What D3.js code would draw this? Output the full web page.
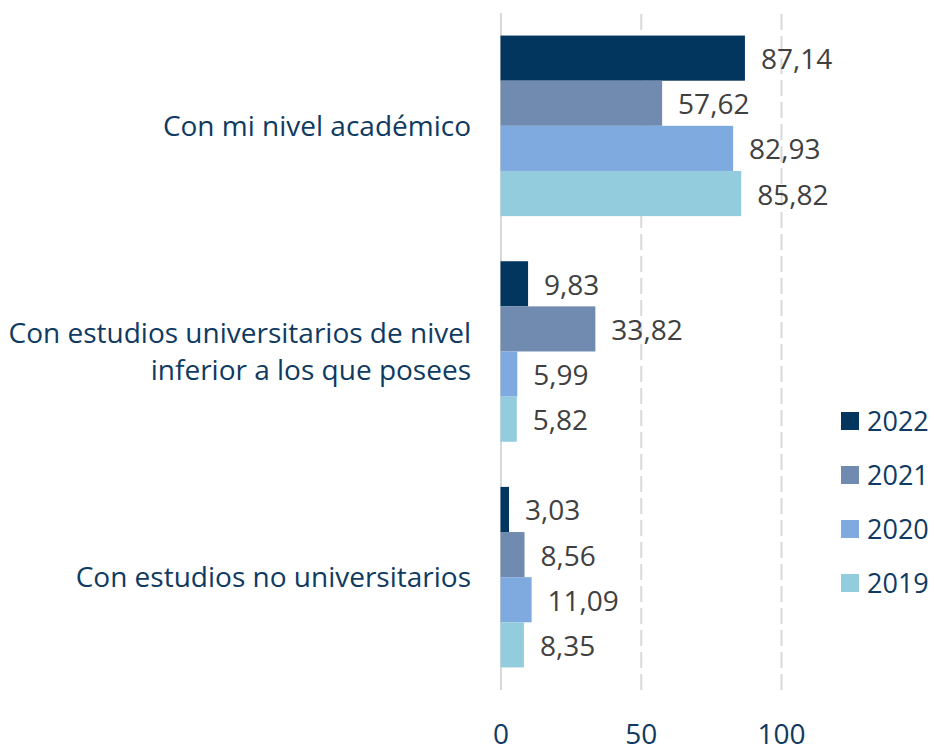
<!DOCTYPE html>
<html>
<head>
<meta charset="utf-8">
<script src="https://cdn.jsdelivr.net/npm/d3@7"></script>
<style>
  html, body { margin: 0; padding: 0; background: #ffffff; }
  svg { display: block; font-family: "Open Sans", "Noto Sans", sans-serif; }
</style>
</head>
<body>
<svg id="chart" width="934" height="748"></svg>
<script>
// Categories (top to bottom), each label split into display lines
const categories = [
  "Con mi nivel académico",
  "Con estudios universitarios de nivel inferior a los que posees",
  "Con estudios no universitarios"
];
const categoryLines = [
  ["Con mi nivel académico"],
  ["Con estudios universitarios de nivel", "inferior a los que posees"],
  ["Con estudios no universitarios"]
];

// Series, in the order they are stacked inside each group
const years = ["2022", "2021", "2020", "2019"];
const values2022 = [87.14, 9.83, 3.03];
const values2021 = [57.62, 33.82, 8.56];
const values2020 = [82.93, 5.99, 11.09];
const values2019 = [85.82, 5.82, 8.35];
const seriesValues = [values2022, values2021, values2020, values2019];

const xTicks = [0, 50, 100];
const colors = ["#02365F", "#718BB0", "#7FAADF", "#93CDDD"];

const navy = "#0F3A61";
const labelGrey = "#404040";
const gridGrey = "#D9D9D9";

const svg = d3.select("#chart");

const x = d3.scaleLinear().domain([0, 100]).range([500.5, 781]);
const y = d3.scaleBand().domain(categories).range([13, 690])
  .paddingInner(0.2).paddingOuter(0.1);
const yInner = d3.scaleBand().domain(years).range([0, y.bandwidth()]);
const color = d3.scaleOrdinal().domain(years).range(colors);

// Vertical gridlines
const grid = svg.append("g").attr("transform", "translate(0,690)")
  .call(d3.axisBottom(x).tickValues(xTicks).tickSize(-677).tickFormat(""));
grid.select(".domain").remove();
grid.selectAll(".tick line")
  .attr("stroke", gridGrey)
  .attr("stroke-width", 2)
  .attr("stroke-dasharray", d => d === 0 ? null : "16,6");

// Tick labels
const axis = svg.append("g").attr("transform", "translate(0,744)")
  .call(d3.axisBottom(x).tickValues(xTicks).tickSize(0).tickPadding(0).tickFormat(d3.format("d")));
axis.select(".domain").remove();
axis.selectAll(".tick text")
  .attr("dy", 0)
  .attr("fill", navy)
  .style("font-size", "28px")
  .style("font-family", "'Open Sans', sans-serif");

// Bars and value labels
const rows = [];
categories.forEach((c, ci) => {
  years.forEach((yr, si) => {
    rows.push({ cat: c, year: yr, value: seriesValues[si][ci] });
  });
});

const fmt = v => d3.format(".2f")(v).replace(".", ",");

const groups = svg.append("g");
groups.selectAll("rect").data(rows).join("rect")
  .attr("x", x(0))
  .attr("y", d => y(d.cat) + yInner(d.year))
  .attr("width", d => x(d.value) - x(0))
  .attr("height", yInner.bandwidth())
  .attr("fill", d => color(d.year));

groups.selectAll("text.val").data(rows).join("text")
  .attr("class", "val")
  .attr("x", d => x(d.value) + 16)
  .attr("y", d => y(d.cat) + yInner(d.year) + yInner.bandwidth() / 2 + 11)
  .attr("fill", labelGrey)
  .style("font-size", "28px")
  .text(d => fmt(d.value));

// Category labels, right aligned next to the zero line
const catFont = 28;
const lineH = 37;
svg.append("g").selectAll("text").data(categories).join("text")
  .attr("text-anchor", "end")
  .attr("fill", navy)
  .style("font-size", catFont + "px")
  .each(function (c, i) {
    const lines = categoryLines[i];
    const cy = y(c) + y.bandwidth() / 2;
    const first = cy - (lines.length - 1) * lineH / 2 + catFont * 0.36;
    d3.select(this).selectAll("tspan").data(lines).join("tspan")
      .attr("x", 471)
      .attr("y", (l, j) => first + j * lineH)
      .text(l => l);
  });

// Legend
const legend = svg.append("g");
const legendY = d3.scalePoint().domain(years).range([421, 583]);
legend.selectAll("rect").data(years).join("rect")
  .attr("x", 841)
  .attr("y", d => legendY(d) - 9)
  .attr("width", 18)
  .attr("height", 18)
  .attr("fill", d => color(d));
legend.selectAll("text").data(years).join("text")
  .attr("x", 867)
  .attr("y", d => legendY(d) + 10)
  .attr("fill", navy)
  .style("font-size", "27px")
  .text(d => d);
</script>
</body>
</html>
